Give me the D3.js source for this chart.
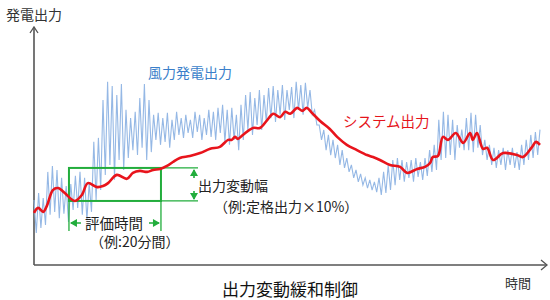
<!DOCTYPE html>
<html>
<head>
<meta charset="utf-8">
<script src="https://cdn.jsdelivr.net/npm/d3@7"></script>
<style>
  body { margin: 0; background: #fff; }
  svg { display: block; font-family: "Noto Sans CJK JP", "Noto Sans", sans-serif; }
</style>
</head>
<body>
<svg id="chart" width="550" height="300"></svg>
<script>
// wind output, one peak and one trough per minute (% of rated)
const windHigh = [19.7, 21.8, 20.3, 28.2, 30.0, 28.8, 26.4, 23.9, 24.5, 27.0,
  28.2, 26.4, 24.8, 37.3, 38.5, 50.0, 55.5, 54.2, 51.5, 54.8,
  47.0, 44.5, 46.4, 50.6, 54.8, 50.0, 45.5, 46.1, 44.5, 46.1,
  44.0, 46.4, 44.5, 45.5, 44.0, 46.4, 45.5, 44.5, 47.0, 46.4,
  47.6, 48.5, 47.0, 47.6, 45.5, 48.5, 51.5, 52.4, 50.6, 53.0,
  51.5, 53.6, 54.2, 53.0, 54.5, 53.0, 53.9, 55.5, 54.5, 55.2,
  53.0, 47.0, 42.4, 40.9, 39.4, 37.9, 36.4, 34.8, 32.4, 30.3,
  28.8, 27.6, 26.4, 25.8, 25.2, 26.4, 28.2, 30.3, 31.8, 32.4,
  31.8, 31.2, 31.8, 32.4, 31.2, 32.4, 34.8, 36.4, 44.0, 46.4,
  45.5, 44.0, 42.4, 41.0, 44.5, 46.1, 45.5, 42.4, 37.9, 36.4,
  35.5, 34.8, 35.5, 34.8, 35.5, 34.2, 36.4, 37.9, 39.4, 40.3, 41.0];
const windLow = [9.7, 11.2, 12.1, 15.2, 16.1, 14.2, 15.5, 13.0, 16.7, 17.3,
  15.2, 13.6, 16.1, 19.7, 22.7, 27.3, 30.3, 25.8, 31.8, 28.8,
  32.4, 34.8, 33.3, 35.5, 31.8, 34.2, 37.9, 36.4, 37.3, 35.5,
  37.9, 39.4, 38.5, 40.0, 38.5, 40.3, 37.9, 39.4, 38.8, 37.9,
  40.0, 37.3, 36.4, 37.9, 34.8, 37.9, 40.9, 39.4, 42.4, 40.9,
  43.3, 44.5, 43.3, 45.5, 43.9, 47.0, 44.5, 47.0, 45.5, 47.6,
  45.5, 42.4, 37.9, 34.8, 33.3, 32.4, 30.3, 29.4, 28.2, 26.4,
  25.2, 24.2, 23.3, 22.7, 22.1, 21.2, 21.8, 22.7, 24.2, 25.8,
  25.2, 26.4, 25.2, 26.7, 25.8, 27.0, 28.2, 28.8, 31.8, 32.4,
  33.3, 31.8, 35.5, 34.8, 34.8, 34.2, 35.5, 33.3, 31.8, 30.3,
  29.4, 30.3, 28.8, 30.3, 29.4, 28.8, 30.3, 31.8, 32.4, 33.3, 34.8];

// smoothed system output
const sysTime = [0, 0.9, 2.0, 2.8, 4.1, 5.2, 6.7, 7.8, 8.9, 10.4,
  11.7, 13.7, 15.0, 16.1, 18.0, 20.2, 21.5, 23.0, 24.6, 25.9,
  27.4, 28.9, 30.2, 31.7, 33.9, 36.1, 38.3, 40.4, 42.2, 43.0,
  43.7, 44.3, 45.4, 47.6, 49.1, 50.7, 52.0, 53.5, 54.6, 55.7,
  57.2, 58.3, 59.3, 60.4, 62.2, 64.3, 65.9, 68.0, 70.2, 72.4,
  73.7, 75.2, 77.4, 79.6, 81.1, 83.3, 85.0, 86.1, 86.7, 87.8,
  88.9, 90.0, 91.7, 93.3, 94.8, 95.4, 96.3, 97.6, 98.5, 99.8,
  102.0, 105.0, 106.3, 108.3, 109.1, 110.0];
const sysOutput = [15.8, 17.3, 16.1, 17.9, 22.7, 23.3, 21.8, 20.3, 19.4, 21.2,
  24.8, 23.6, 23.9, 24.8, 27.3, 26.1, 27.9, 28.5, 28.2, 28.8,
  29.1, 30.0, 31.2, 32.4, 33.0, 33.9, 35.2, 35.8, 37.9, 37.9,
  38.8, 38.2, 39.4, 41.5, 41.5, 43.9, 45.8, 44.8, 46.4, 45.8,
  47.6, 46.7, 47.6, 46.1, 43.6, 41.2, 38.8, 36.4, 34.8, 33.3,
  32.7, 31.8, 30.3, 29.7, 27.9, 29.1, 29.7, 30.9, 32.7, 33.0,
  38.8, 37.9, 40.0, 37.0, 40.0, 37.9, 40.0, 35.2, 35.5, 31.8,
  33.9, 33.3, 32.7, 35.8, 37.3, 36.4];

// evaluation window: 20 minutes, band of 10% of rated output
const evalStart = 7.6, evalMinutes = 20;
const bandBase = 19.4, bandWidth = 10;

const svg = d3.select('#chart');
const x = d3.scaleLinear().domain([0, 110]).range([34, 540]);
const y = d3.scaleLinear().domain([0, 73]).range([265, 24]);

const axisColor = '#555';
const green = '#22ad3c';

// axes (no ticks), open chevron heads
svg.append('path')
  .attr('d', `M${x(0)},${y(0)} V27 M${x(0)},${y(0)} H547`)
  .attr('stroke', axisColor).attr('stroke-width', 1.6).attr('fill', 'none');
svg.append('path')
  .attr('d', `M${x(0) - 4},33 L${x(0)},27 L${x(0) + 4},33 M541,${y(0) - 5} L547,${y(0)} L541,${y(0) + 5}`)
  .attr('stroke', axisColor).attr('stroke-width', 1.3).attr('fill', 'none');

// wind power
const windPts = [];
windHigh.forEach((v, i) => {
  windPts.push([i, v]);
  if (i < windHigh.length - 1) windPts.push([i + 0.5, windLow[i]]);
});
svg.append('path')
  .datum(windPts)
  .attr('fill', 'none')
  .attr('stroke', '#95b8e5')
  .attr('stroke-width', 1.1)
  .attr('d', d3.line().x(d => x(d[0])).y(d => y(d[1])));

// green evaluation box and dimension marks
const bx0 = x(evalStart), bx1 = x(evalStart + evalMinutes);
const by0 = y(bandBase + bandWidth), by1 = y(bandBase);
const g = svg.append('g').attr('stroke', green).attr('fill', 'none');
g.append('rect').attr('x', bx0).attr('y', by0).attr('width', bx1 - bx0).attr('height', by1 - by0)
  .attr('stroke-width', 2);
g.append('path').attr('stroke-width', 1.3)
  .attr('d', `M${bx0},${by1} V231 M${bx1},${by1} V231 M${bx1},${by0} H198 M${bx1},${by1} H198`);
// horizontal arrows
g.append('path').attr('stroke-width', 1.6)
  .attr('d', `M${bx0 + 2},223 H${bx0 + 12} M${bx1 - 2},223 H${bx1 - 12}`);
g.append('path').attr('fill', green).attr('stroke', 'none')
  .attr('d', `M${bx0 + 1},223 l7,-4 v8 Z M${bx1 - 1},223 l-7,-4 v8 Z`);
// vertical arrows
g.append('path').attr('stroke-width', 1.6)
  .attr('d', `M194,${by0 + 2} V${by0 + 10} M194,${by1 - 2} V${by1 - 10}`);
g.append('path').attr('fill', green).attr('stroke', 'none')
  .attr('d', `M194,${by0 + 1} l-4,7 h8 Z M194,${by1 - 1} l-4,-7 h8 Z`);

// system output
svg.append('path')
  .datum(sysTime.map((t, i) => [t, sysOutput[i]]))
  .attr('fill', 'none')
  .attr('stroke', '#e8141c')
  .attr('stroke-width', 2.6)
  .attr('stroke-linejoin', 'round')
  .attr('d', d3.line().curve(d3.curveCatmullRom).x(d => x(d[0])).y(d => y(d[1])));

// text
const txt = (s, tx, ty, size, color, anchor) => svg.append('text')
  .attr('x', tx).attr('y', ty).attr('font-size', size).attr('fill', color)
  .attr('text-anchor', anchor || 'start').text(s);

txt('発電出力', 34, 20, 14, '#333', 'middle');
txt('風力発電出力', 148, 78, 14, '#3b7fca');
txt('システム出力', 343, 127, 14.5, '#e5141b');
txt('出力変動幅', 198, 191, 14, '#222');
txt('（例:定格出力×10%）', 214, 212, 14, '#222');
txt('評価時間', 85, 229, 14.5, '#222');
txt('（例:20分間）', 90, 247, 14, '#222');
txt('時間', 518, 288, 13, '#333', 'middle');
txt('出力変動緩和制御', 290, 296, 17, '#111', 'middle');
</script>
</body>
</html>
